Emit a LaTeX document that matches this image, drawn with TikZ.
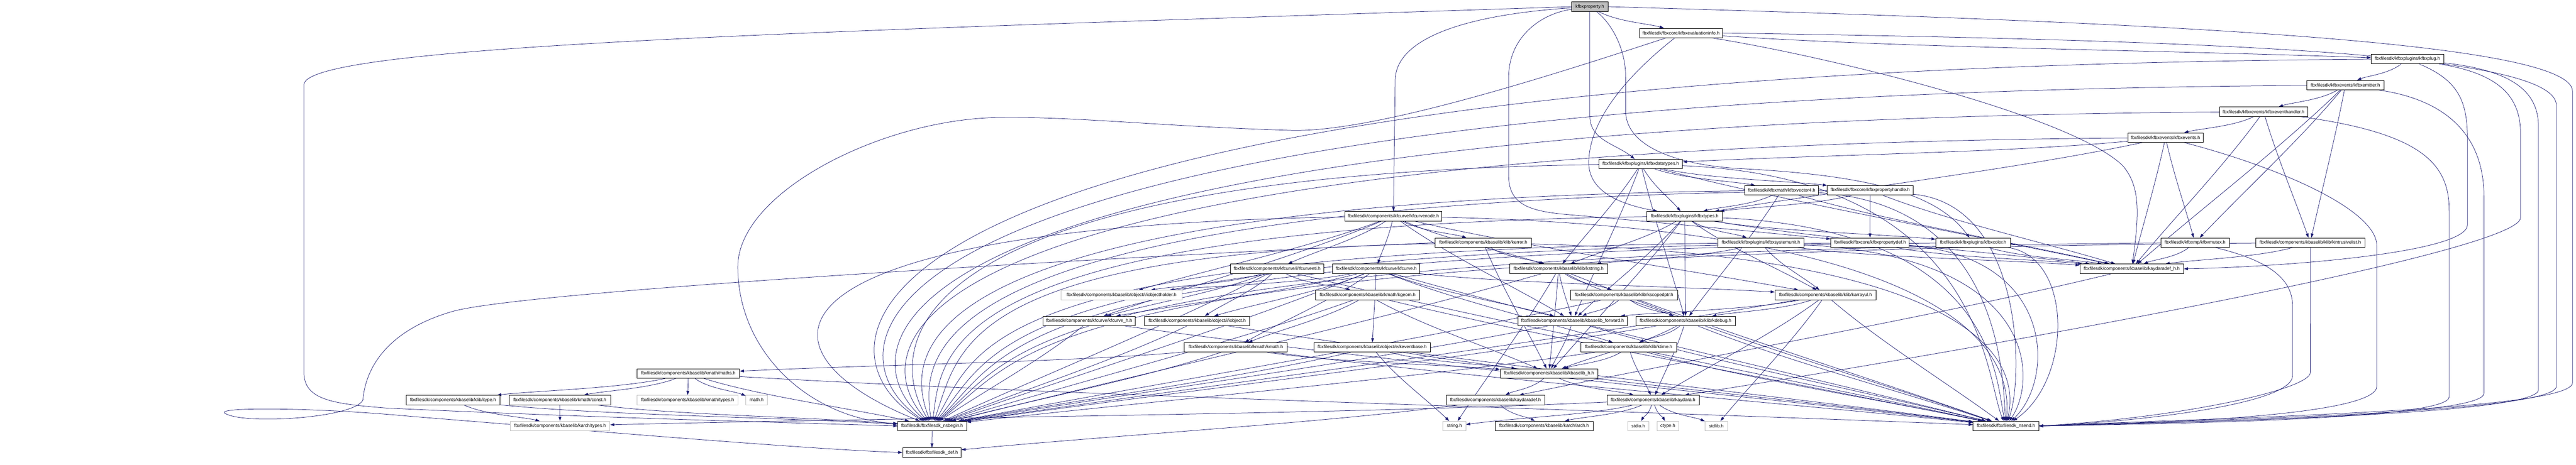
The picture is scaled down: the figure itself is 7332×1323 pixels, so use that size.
\documentclass[tikz,border=0pt]{standalone}
\usepackage{fontspec}
\setmainfont{Liberation Sans}
\usetikzlibrary{arrows.meta,calc}
\definecolor{edgeblue}{HTML}{191970}
\definecolor{nodegrey}{HTML}{BFBFBF}
\pgfdeclarelayer{bg}
\pgfdeclarelayer{edges}
\pgfsetlayers{bg,edges,main}
\tikzset{
 box/.style={draw=black,line width=1.1pt,rectangle,minimum height=27pt,inner sep=0pt,font=\fontsize{13pt}{15pt}\selectfont,fill=white},
 ubox/.style={box,draw=nodegrey},
 rootbox/.style={box,fill=nodegrey},
 edge/.style={draw=edgeblue,line width=1.1pt,-{Triangle[length=12pt,width=8pt]}},
}
\newcommand\edg[2]{\draw[edge] (#1) .. controls ($(#1)!0.3!(#2)+(0,-20)$) and ($(#1)!0.65!(#2)$) .. (#2);}
\newcommand\enb[2]{\draw[edge] let \p1=(#1.west) in (#1) .. controls (#2pt,\y1-30pt) and (#2pt,-1000pt) .. (nsb);}
\newcommand\ene[2]{\draw[edge] let \p1=(#1.east) in (#1) .. controls (#2pt,\y1-40pt) and (#2pt,-1080pt) .. (nse);}
\begin{document}
\begin{tikzpicture}[x=1pt,y=1pt]
\useasboundingbox (0,0) rectangle (7332,-1323);
\begin{pgfonlayer}{bg}
\fill[white] (0,0) rectangle (7332,-1323);
\end{pgfonlayer}
% nodes
\node[rootbox,minimum width=104pt] (prop) at (4525,-19) {kfbxproperty.h};
\node[box,minimum width=237pt] (evalinfo) at (4784.5,-94) {fbxfilesdk/fbxcore/kfbxevaluationinfo.h};
\node[box,minimum width=206pt] (plug) at (6852,-168) {fbxfilesdk/kfbxplugins/kfbxplug.h};
\node[box,minimum width=219pt] (emitter) at (6675.5,-242.5) {fbxfilesdk/kfbxevents/kfbxemitter.h};
\node[box,minimum width=251pt] (evh) at (6442.5,-318) {fbxfilesdk/kfbxevents/kfbxeventhandler.h};
\node[box,minimum width=215pt] (events) at (6163.5,-392) {fbxfilesdk/kfbxevents/kfbxevents.h};
\node[box,minimum width=238pt] (dtypes) at (4670,-467) {fbxfilesdk/kfbxplugins/kfbxdatatypes.h};
\node[box,minimum width=210pt] (vec4) at (5071,-542) {fbxfilesdk/kfbxmath/kfbxvector4.h};
\node[box,minimum width=244pt] (phandle) at (5323,-542) {fbxfilesdk/fbxcore/kfbxpropertyhandle.h};
\node[box,minimum width=216pt] (ftypes) at (4795,-615.5) {fbxfilesdk/kfbxplugins/kfbxtypes.h};
\node[box,minimum width=276pt] (cnode) at (3966,-615.5) {fbxfilesdk/components/kfcurve/kfcurvenode.h};
\node[box,minimum width=275pt] (kerror) at (4221.5,-691) {fbxfilesdk/components/kbaselib/klib/kerror.h};
\node[box,minimum width=246pt] (sysunit) at (5012,-691) {fbxfilesdk/kfbxplugins/kfbxsystemunit.h};
\node[box,minimum width=223pt] (pdef) at (5322.5,-691) {fbxfilesdk/fbxcore/kfbxpropertydef.h};
\node[box,minimum width=212pt] (color) at (5616,-691) {fbxfilesdk/kfbxplugins/kfbxcolor.h};
\node[box,minimum width=195pt] (mutex) at (6247.5,-691) {fbxfilesdk/kfbxmp/kfbxmutex.h};
\node[box,minimum width=311pt] (intr) at (6575.5,-691) {fbxfilesdk/components/kbaselib/klib/kintrusivelist.h};
\node[box,minimum width=266pt] (eti) at (3635,-765.5) {fbxfilesdk/components/kfcurve/i/ifcurveeti.h};
\node[box,minimum width=248pt] (kfc) at (3917,-765.5) {fbxfilesdk/components/kfcurve/kfcurve.h};
\node[box,minimum width=278pt] (kstr) at (4436,-765.5) {fbxfilesdk/components/kbaselib/klib/kstring.h};
\node[box,minimum width=295pt] (kdefh) at (6067.5,-765.5) {fbxfilesdk/components/kbaselib/kaydaradef\_h.h};
\node[ubox,minimum width=344pt] (ioh) at (3192,-840) {fbxfilesdk/components/kbaselib/object/i/iobjectholder.h};
\node[box,minimum width=297pt] (kgeom) at (3892.5,-840) {fbxfilesdk/components/kbaselib/kmath/kgeom.h};
\node[box,minimum width=305pt] (ksp) at (4622.5,-840) {fbxfilesdk/components/kbaselib/klib/kscopedptr.h};
\node[box,minimum width=288pt] (karr) at (5196,-840) {fbxfilesdk/components/kbaselib/klib/karrayul.h};
\node[box,minimum width=262pt] (kfch) at (3100,-914) {fbxfilesdk/components/kfcurve/kfcurve\_h.h};
\node[box,minimum width=299pt] (iobj) at (3407.5,-914) {fbxfilesdk/components/kbaselib/object/i/iobject.h};
\node[box,minimum width=312pt] (fwd) at (4476,-914) {fbxfilesdk/components/kbaselib/kbaselib\_forward.h};
\node[box,minimum width=283pt] (kdbg) at (4797.5,-914) {fbxfilesdk/components/kbaselib/klib/kdebug.h};
\node[box,minimum width=293pt] (kmath) at (3517.5,-989) {fbxfilesdk/components/kbaselib/kmath/kmath.h};
\node[box,minimum width=331pt] (kevb) at (3905.5,-989) {fbxfilesdk/components/kbaselib/object/e/keventbase.h};
\node[box,minimum width=273pt] (ktime) at (4635.5,-989) {fbxfilesdk/components/kbaselib/klib/ktime.h};
\node[box,minimum width=292pt] (maths) at (1959,-1064) {fbxfilesdk/components/kbaselib/kmath/maths.h};
\node[box,minimum width=278pt] (kblh) at (4409,-1063.5) {fbxfilesdk/components/kbaselib/kbaselib\_h.h};
\node[box,minimum width=267pt] (itype) at (1289.5,-1139) {fbxfilesdk/components/kbaselib/klib/itype.h};
\node[box,minimum width=289pt] (const) at (1593.5,-1139) {fbxfilesdk/components/kbaselib/kmath/const.h};
\node[ubox,minimum width=288pt] (mtypes) at (1957,-1139) {fbxfilesdk/components/kbaselib/kmath/types.h};
\node[ubox,minimum width=61pt] (mathh) at (2153.5,-1139) {math.h};
\node[box,minimum width=281pt] (kdef) at (4256.5,-1139) {fbxfilesdk/components/kbaselib/kaydaradef.h};
\node[box,minimum width=262pt] (kay) at (4705,-1139) {fbxfilesdk/components/kbaselib/kaydara.h};
\node[ubox,minimum width=284pt] (atypes) at (1594,-1213) {fbxfilesdk/components/kbaselib/karch/types.h};
\node[box,minimum width=196pt] (nsb) at (2653,-1213) {fbxfilesdk/fbxfilesdk\_nsbegin.h};
\node[ubox,minimum width=65pt] (strh) at (4139.5,-1213) {string.h};
\node[box,minimum width=278pt] (arch) at (4395,-1213) {fbxfilesdk/components/kbaselib/karch/arch.h};
\node[ubox,minimum width=60pt] (stdio) at (4663,-1213) {stdio.h};
\node[ubox,minimum width=62pt] (ctype) at (4747,-1213) {ctype.h};
\node[ubox,minimum width=64pt] (stdlib) at (4885,-1213) {stdlib.h};
\node[box,minimum width=187pt] (nse) at (5709.5,-1213) {fbxfilesdk/fbxfilesdk\_nsend.h};
\node[box,minimum width=167pt] (def) at (2652.5,-1288.5) {fbxfilesdk/fbxfilesdk\_def.h};
\begin{pgfonlayer}{edges}
% kfbxproperty.h
\draw[edge] (prop.west) .. controls (2400,-88) and (880,-125) .. (865,-240) -- (865,-1060) .. controls (865,-1140) and (950,-1150) .. (1100,-1162) .. controls (1700,-1190) and (2300,-1205) .. (nsb.west);
\draw[edge] (prop.east) .. controls (6000,-60) and (7322,-110) .. (7322,-260) -- (7322,-1090) .. controls (7322,-1170) and (6300,-1190) .. (nse.east);
\edg{prop}{evalinfo}
\draw[edge] (prop.south) -- (4525,-330) .. controls (4525,-400) and (4600,-410) .. (dtypes);
\draw[edge] (prop) .. controls (4200,-40) and (3971,-100) .. (3971,-230) -- (cnode);
\draw[edge] (prop) .. controls (4380,-40) and (4294,-110) .. (4294,-220) -- (4294,-500) .. controls (4294,-580) and (4350,-600) .. (4450,-610) .. controls (4800,-640) and (5100,-670) .. (pdef);
\draw[edge] (prop) .. controls (4580,-60) and (4627,-130) .. (4627,-220) -- (4627,-316) .. controls (4627,-420) and (4780,-470) .. (4950,-480) .. controls (5350,-500) and (5520,-560) .. (color);
% kfbxevaluationinfo.h
\draw[edge] (evalinfo.east) .. controls (6300,-115) and (7276,-150) .. (7276,-300) -- (7276,-1100) .. controls (7276,-1175) and (6300,-1195) .. (nse.east);
\draw[edge] (evalinfo) .. controls (4400,-220) and (3900,-380) .. (3670,-371) .. controls (3300,-360) and (3050,-330) .. (2827,-335) .. controls (2500,-345) and (2100,-550) .. (2100,-760) .. controls (2100,-1000) and (2300,-1190) .. (nsb);
\draw[edge] (evalinfo) .. controls (4650,-200) and (4525,-330) .. (4522,-460) .. controls (4520,-540) and (4600,-580) .. (ftypes);
\draw[edge] (evalinfo) .. controls (5200,-160) and (5900,-330) .. (6043,-473) .. controls (6090,-530) and (6090,-600) .. (kdefh);
\edg{evalinfo}{plug}
% kfbxplug.h
\draw[edge] (plug) .. controls (7150,-200) and (7225,-260) .. (7225,-360) -- (7225,-1110) .. controls (7225,-1180) and (6300,-1200) .. (nse.east);
\draw[edge] (plug) .. controls (7120,-210) and (7174,-280) .. (7174,-380) -- (7174,-620) .. controls (7174,-720) and (5600,-1000) .. (kay);
\draw[edge] (plug) .. controls (7000,-230) and (7023,-290) .. (7023,-400) -- (7023,-640) .. controls (7023,-720) and (6500,-760) .. (kdefh.east);
\edg{plug}{emitter}
\enb{plug}{2280}
% kfbxemitter.h
\draw[edge] (emitter) .. controls (7000,-290) and (7070,-420) .. (7070,-560) -- (7070,-1120) .. controls (7070,-1185) and (6300,-1200) .. (nse.east);
\edg{emitter}{evh}
\edg{emitter}{mutex}
\edg{emitter}{intr}
\edg{emitter}{kdefh}
\enb{emitter}{2330}
% kfbxeventhandler.h
\draw[edge] (evh) .. controls (6900,-380) and (6971,-470) .. (6971,-600) -- (6971,-1130) .. controls (6971,-1190) and (6300,-1205) .. (nse.east);
\edg{evh}{events}
\edg{evh}{intr}
\edg{evh}{kdefh}
\enb{evh}{2400}
% kfbxevents.h
\draw[edge] (events) .. controls (6500,-480) and (6765,-600) .. (6765,-700) -- (6765,-1100) .. controls (6765,-1180) and (6200,-1205) .. (nse.east);
\edg{events}{mutex}
\edg{events}{dtypes}
\edg{events}{ftypes}
\edg{events}{kdefh}
\enb{events}{2460}
% kfbxdatatypes.h
\edg{dtypes}{vec4}
\edg{dtypes}{phandle}
\edg{dtypes}{ftypes}
\edg{dtypes}{kstr}
\edg{dtypes}{kdbg}
\edg{dtypes}{fwd}
\edg{dtypes}{kdefh}
\enb{dtypes}{2520}
\ene{dtypes}{5650}
% kfbxvector4.h
\edg{vec4}{ftypes}
\edg{vec4}{kdbg}
\edg{vec4}{kdefh}
\enb{vec4}{2570}
\ene{vec4}{5700}
% kfbxpropertyhandle.h
\edg{phandle}{pdef}
\edg{phandle}{ftypes}
\edg{phandle}{kdefh}
\enb{phandle}{2620}
\ene{phandle}{5760}
% kfbxtypes.h
\edg{ftypes}{sysunit}
\edg{ftypes}{kstr}
\edg{ftypes}{kdbg}
\edg{ftypes}{fwd}
\edg{ftypes}{color}
\edg{ftypes}{kdefh}
\edg{ftypes}{kblh}
\edg{ftypes}{karr}
\enb{ftypes}{2680}
\ene{ftypes}{5680}
% kfcurvenode.h
\edg{cnode}{kerror}
\edg{cnode}{kfc}
\edg{cnode}{eti}
\edg{cnode}{kstr}
\edg{cnode}{fwd}
\edg{cnode}{karr}
\edg{cnode}{kfch}
\edg{cnode}{ioh}
\enb{cnode}{2120}
\ene{cnode}{5720}
% kerror.h
\draw[edge] (kerror.west) .. controls (3000,-740) and (1500,-830) .. (1291,-886) .. controls (1100,-940) and (1040,-1050) .. (1033,-1139) .. controls (1010,-1190) and (700,-1210) .. (642,-1178) .. controls (600,-1158) and (900,-1160) .. (1173,-1186) .. controls (1600,-1220) and (2300,-1280) .. (def.west);
\edg{kerror}{kstr}
\edg{kerror}{kblh}
\enb{kerror}{2730}
\ene{kerror}{5740}
% kfbxsystemunit.h
\edg{sysunit}{kstr}
\edg{sysunit}{karr}
\edg{sysunit}{kdefh}
\enb{sysunit}{2780}
\ene{sysunit}{5800}
% kfbxpropertydef.h
\edg{pdef}{kdefh}
\enb{pdef}{2830}
\ene{pdef}{5850}
% kfbxcolor.h
\edg{color}{kdefh}
\enb{color}{2870}
\ene{color}{5900}
% kfbxmutex.h, kintrusivelist.h
\draw[edge] (mutex) .. controls (6450,-740) and (6525,-790) .. (6525,-870) -- (6525,-1070) .. controls (6525,-1150) and (6100,-1200) .. (nse.east);
\edg{mutex}{kdefh}
\enb{mutex}{2900}
\draw[edge] (intr.south) -- (6576,-1060) .. controls (6576,-1110) and (6200,-1190) .. (nse.east);
\edg{intr}{kdefh}
\enb{intr}{2930}
% kaydaradef_h.h
\edg{kdefh}{kdef}
% ifcurveeti.h
\edg{eti}{kgeom}
\edg{eti}{kfch}
\edg{eti}{iobj}
\edg{eti}{ioh}
\edg{eti}{nsb}
\edg{eti}{nse}
% kfcurve.h
\edg{kfc}{kfch}
\edg{kfc}{iobj}
\edg{kfc}{ioh}
\edg{kfc}{kmath}
\edg{kfc}{kevb}
\edg{kfc}{fwd}
\edg{kfc}{ktime}
\edg{kfc}{karr}
\edg{kfc}{nsb}
\edg{kfc}{nse}
% kstring.h
\edg{kstr}{ksp}
\edg{kstr}{strh}
\edg{kstr}{kblh}
\edg{kstr}{fwd}
\edg{kstr}{kdbg}
\edg{kstr}{nsb}
\edg{kstr}{nse}
% kgeom.h
\edg{kgeom}{kmath}
\edg{kgeom}{kblh}
\edg{kgeom}{nsb}
\edg{kgeom}{nse}
% kscopedptr.h
\edg{ksp}{kdbg}
\edg{ksp}{fwd}
\edg{ksp}{nsb}
\edg{ksp}{nse}
% karrayul.h
\edg{karr}{kdbg}
\edg{karr}{fwd}
\edg{karr}{stdlib}
\edg{karr}{kay}
\edg{karr}{nsb}
\edg{karr}{nse}
% kfcurve_h.h, iobject.h
\edg{kfch}{nsb}
\edg{kfch}{nse}
\edg{iobj}{nsb}
\edg{iobj}{nse}
% kbaselib_forward.h, kdebug.h
\edg{fwd}{kblh}
\edg{fwd}{nsb}
\edg{fwd}{nse}
\edg{kdbg}{kblh}
\edg{kdbg}{ktime}
\edg{kdbg}{kay}
\edg{kdbg}{nsb}
\edg{kdbg}{nse}
% kmath.h, keventbase.h, ktime.h
\edg{kmath}{maths}
\edg{kmath}{kblh}
\edg{kmath}{nsb}
\edg{kmath}{nse}
\edg{kevb}{kblh}
\edg{kevb}{strh}
\edg{kevb}{nsb}
\edg{kevb}{nse}
\edg{ktime}{kblh}
\edg{ktime}{kay}
\edg{ktime}{nsb}
\edg{ktime}{nse}
% maths.h
\edg{maths}{mtypes}
\edg{maths}{mathh}
\edg{maths}{const}
\edg{maths}{itype}
\edg{maths}{nsb}
\edg{maths}{nse}
% kbaselib_h.h, kaydaradef.h, kaydara.h
\edg{kblh}{kdef}
\edg{kblh}{kay}
\edg{kdef}{arch}
\edg{kdef}{def}
\edg{kay}{arch}
\edg{kay}{strh}
\edg{kay}{stdio}
\edg{kay}{ctype}
\edg{kay}{stdlib}
\edg{kay}{atypes}
% itype.h, const.h, nsbegin
\edg{itype}{atypes}
\edg{const}{atypes}
\edg{itype}{nsb}
\edg{const}{nsb}
\edg{nsb}{def}
\end{pgfonlayer}
\end{tikzpicture}
\end{document}
